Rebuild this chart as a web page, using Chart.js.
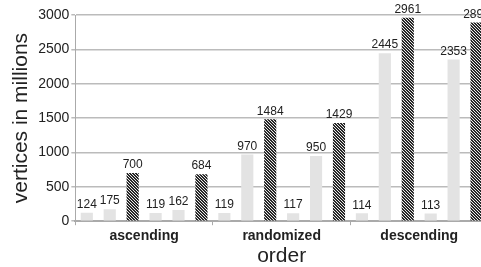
<!DOCTYPE html>
<html>
<head>
<meta charset="utf-8">
<script src="https://cdn.jsdelivr.net/npm/chart.js@4"></script>
<style>
  html, body { margin: 0; padding: 0; background: #fff; }
  #wrap { width: 481px; height: 267px; overflow: hidden; }
</style>
</head>
<body>
<div id="wrap"><canvas id="chart1" width="494" height="267"></canvas></div>
<script>
var CATEGORIES = ['ascending', 'randomized', 'descending'];
var SERIES_A = [124, 119, 114];
var SERIES_B = [175, 970, 2445];
var SERIES_C = [700, 1484, 2961];
var SERIES_D = [119, 117, 113];
var SERIES_E = [162, 950, 2353];
var SERIES_F = [684, 1429, 2890];
var Y_TICKS = [0, 500, 1000, 1500, 2000, 2500, 3000];

var LIGHT = '#e3e3e3';
var FONT = '"Liberation Sans", Arial, sans-serif';

// dark bar with fine diagonal white hatching
function hatch() {
  var c = document.createElement('canvas');
  c.width = 6; c.height = 6;
  var ctx = c.getContext('2d');
  var img = ctx.createImageData(6, 6);
  for (var y = 0; y < 6; y++) {
    for (var x = 0; x < 6; x++) {
      var i = (y * 6 + x) * 4;
      var on = ((x - y + 60) % 3) === 0;
      var v = on ? 235 : 40;
      img.data[i] = v; img.data[i + 1] = v; img.data[i + 2] = v; img.data[i + 3] = 255;
    }
  }
  ctx.putImageData(img, 0, 0);
  return c.getContext('2d').createPattern(c, 'repeat');
}
var HATCH = hatch();

var valueLabels = {
  id: 'valueLabels',
  afterDatasetsDraw: function (chart) {
    var ctx = chart.ctx;
    ctx.save();
    ctx.font = '12px ' + FONT;
    ctx.fillStyle = '#222';
    ctx.textAlign = 'center';
    ctx.textBaseline = 'bottom';
    chart.data.datasets.forEach(function (ds, di) {
      chart.getDatasetMeta(di).data.forEach(function (bar, i) {
        ctx.fillText(String(ds.data[i]), bar.x, bar.y - 2);
      });
    });
    ctx.restore();
  }
};

function ds(data, color) {
  return { data: data, backgroundColor: color, borderWidth: 0,
           barPercentage: 0.53, categoryPercentage: 1.0 };
}

new Chart(document.getElementById('chart1'), {
  type: 'bar',
  data: {
    labels: CATEGORIES,
    datasets: [
      ds(SERIES_A, LIGHT), ds(SERIES_B, LIGHT), ds(SERIES_C, HATCH),
      ds(SERIES_D, LIGHT), ds(SERIES_E, LIGHT), ds(SERIES_F, HATCH)
    ]
  },
  options: {
    responsive: false,
    animation: false,
    layout: { padding: { top: 15, right: 6, left: 9, bottom: 0 } },
    plugins: { legend: { display: false }, tooltip: { enabled: false } },
    scales: {
      x: {
        grid: { display: true, drawOnChartArea: false, drawTicks: true, tickLength: 4, color: '#aaa' },
        border: { color: '#aaa', width: 2 },
        ticks: { color: '#222', font: { family: FONT, size: 14, weight: 'bold' }, padding: 3 },
        title: { display: true, text: 'order', color: '#222', font: { family: FONT, size: 21, lineHeight: 1.0 }, padding: { top: -2, bottom: 0 } }
      },
      y: {
        min: 0, max: 3000,
        afterBuildTicks: function (axis) { axis.ticks = Y_TICKS.map(function (v) { return { value: v }; }); },
        grid: { color: '#bbb', lineWidth: 1.5, tickLength: 4 },
        border: { color: '#aaa', width: 1 },
        ticks: { color: '#222', font: { family: FONT, size: 14 }, padding: 2,
                 callback: function (v) { return String(v); } },
        title: { display: true, text: 'vertices in millions', color: '#222', font: { family: FONT, size: 21 }, padding: { top: 0, bottom: 2 } }
      }
    }
  },
  plugins: [valueLabels]
});
</script>
</body>
</html>
